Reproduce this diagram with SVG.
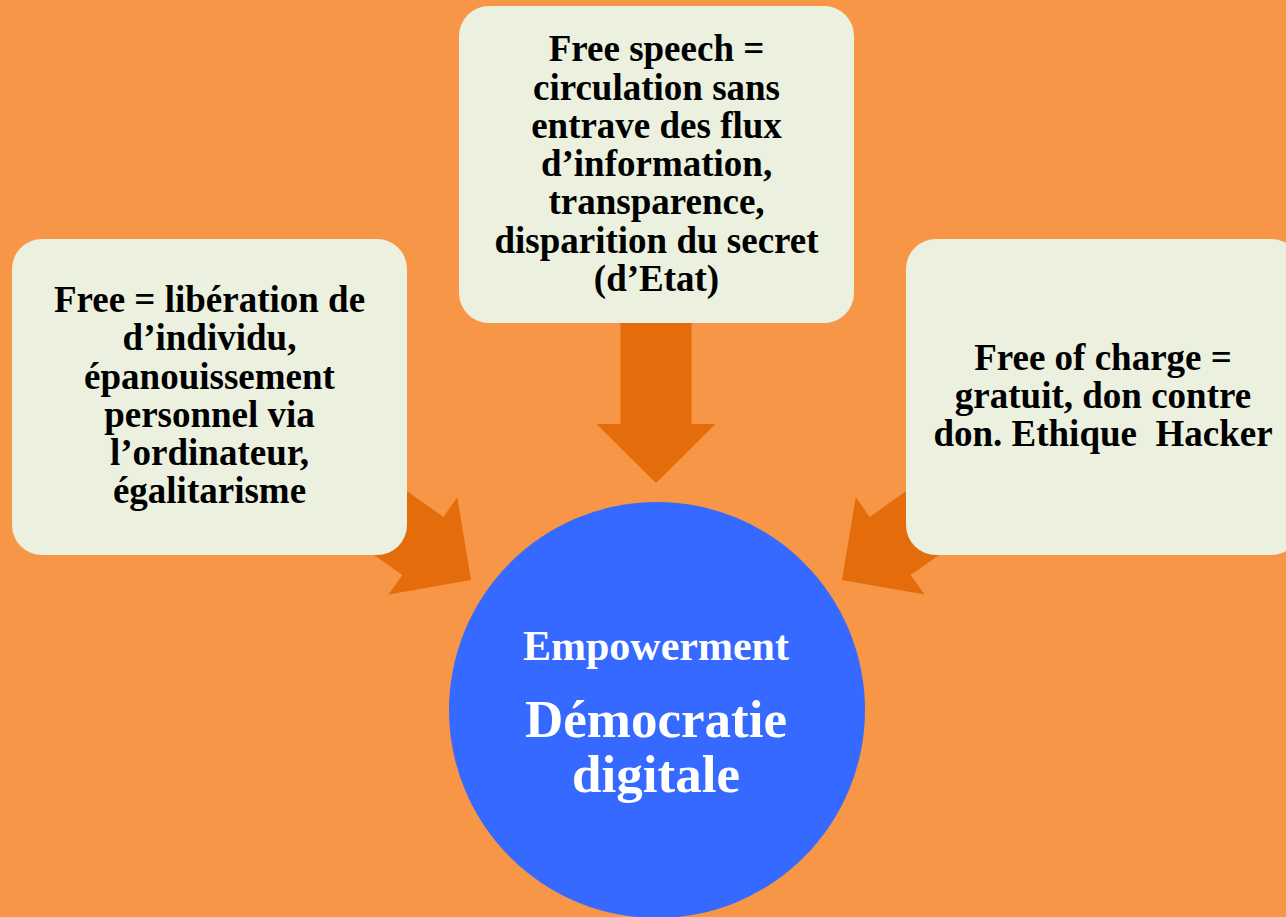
<svg xmlns="http://www.w3.org/2000/svg" width="1286" height="917" viewBox="0 0 1286 917">
  <style>
    .box { fill: #EBF1DE; }
    .arrow { fill: #E46C0A; }
    .t { font-family: "Liberation Serif", "Times New Roman", serif; font-weight: bold; font-size: 37px; fill: #000000; text-anchor: middle; }
    .w { font-family: "Liberation Serif", "Times New Roman", serif; font-weight: bold; fill: #FFFFFF; text-anchor: middle; }
  </style>
  <defs>
    <polygon id="blockArrow" points="-169,-35.5 -59,-35.5 -59,-59.5 0,0 -59,59.5 -59,35.5 -169,35.5"/>
  </defs>
  <rect width="1286" height="917" fill="#F79646"/>
  <g id="connectors">
    <use href="#blockArrow" class="arrow" transform="translate(656,483) rotate(90)"/>
    <use href="#blockArrow" class="arrow" transform="translate(471,580) rotate(35.3)"/>
    <use href="#blockArrow" class="arrow" transform="translate(842,580) rotate(144.7)"/>
  </g>
  <g id="node-left">
    <rect class="box" x="12" y="239" width="395" height="316" rx="30" ry="30"/>
    <text class="t" x="209.5" y="312">Free = libération de</text>
    <text class="t" x="209.5" y="350.25">d’individu,</text>
    <text class="t" x="209.5" y="388.5">épanouissement</text>
    <text class="t" x="209.5" y="426.75">personnel via</text>
    <text class="t" x="209.5" y="465">l’ordinateur,</text>
    <text class="t" x="209.5" y="503.25">égalitarisme</text>
  </g>
  <g id="node-top">
    <rect class="box" x="459" y="6" width="395" height="317" rx="30" ry="30"/>
    <text class="t" x="656.5" y="61.25">Free speech =</text>
    <text class="t" x="656.5" y="99.5">circulation sans</text>
    <text class="t" x="656.5" y="137.75">entrave des flux</text>
    <text class="t" x="656.5" y="176">d’information,</text>
    <text class="t" x="656.5" y="214.25">transparence,</text>
    <text class="t" x="656.5" y="252.5">disparition du secret</text>
    <text class="t" x="656.5" y="290.75">(d’Etat)</text>
  </g>
  <g id="node-right">
    <rect class="box" x="906" y="239" width="395" height="316" rx="30" ry="30"/>
    <text class="t" x="1103" y="369.7">Free of charge =</text>
    <text class="t" x="1103" y="408">gratuit, don contre</text>
    <text class="t" x="1103" y="446.2" xml:space="preserve">don. Ethique  Hacker</text>
  </g>
  <g id="node-center">
    <circle cx="657" cy="710" r="208" fill="#3669FF"/>
    <text class="w" x="656" y="660" font-size="42">Empowerment</text>
    <text class="w" x="656" y="737" font-size="53">Démocratie</text>
    <text class="w" x="656" y="792" font-size="53">digitale</text>
  </g>
</svg>
